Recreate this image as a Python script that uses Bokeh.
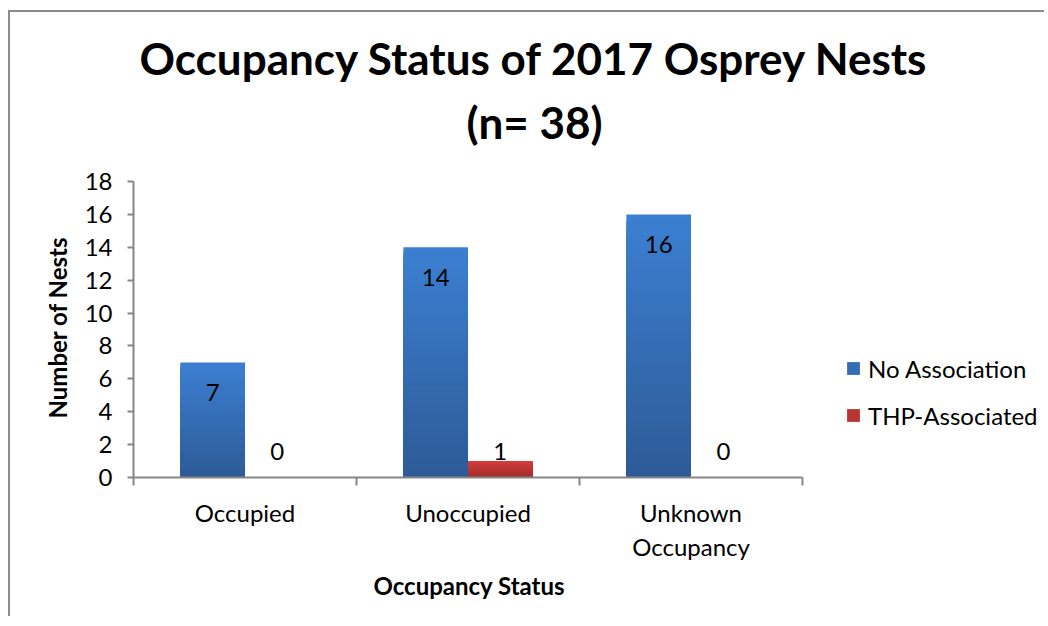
import numpy as np
from bokeh.plotting import figure
from bokeh.models import (ColumnDataSource, FixedTicker, Range1d, Title, Label,
                          Legend, LegendItem)
from bokeh.embed import file_html
from bokeh.resources import INLINE
from bokeh.core.properties import value

# ---------------- data ----------------
categories = ["Occupied", "Unoccupied", "Unknown\nOccupancy"]
no_association = [7, 14, 16]
thp_associated = [0, 1, 0]
series_names = ["No Association", "THP-Associated"]
y_ticks = [0, 2, 4, 6, 8, 10, 12, 14, 16, 18]
title_lines = ["Occupancy Status of 2017 Osprey Nests", "(n= 38)"]
x_title = "Occupancy Status"
y_title = "Number of Nests"

# ---------------- style / layout ----------------
FONT = "Lato"
FS = "24px"
AXIS_COL = "#868686"
BLUE_TOP, BLUE_BOT = (0x3C, 0x7F, 0xD2), (0x2D, 0x5B, 0x96)
RED_TOP, RED_BOT = (0xD4, 0x3E, 0x3C), (0xA0, 0x2C, 0x2B)
BAR_W = 0.29
N_SLICES = 40

W, H = 1036, 606
LEFT, TOP, BOTTOM = 123, 20, 141
AXIS_X_PX = 669               # drawn length of the x axis
AXIS_Y_PX = 296               # drawn length of the y axis
FRAME_W = W - LEFT            # frame extends under legend / title areas
FRAME_H = H - TOP - BOTTOM
ncat = len(categories)
y_max = max(y_ticks)
x_end = ncat * FRAME_W / AXIS_X_PX
y_end = y_max * FRAME_H / AXIS_Y_PX

p = figure(width=W, height=H, output_backend="svg", toolbar_location=None,
           x_range=Range1d(0, x_end), y_range=Range1d(0, y_end),
           min_border_left=LEFT, min_border_right=0,
           min_border_top=TOP, min_border_bottom=BOTTOM)
p.styles = {"border-left": "2px solid #8c8c8c", "border-top": "2px solid #8c8c8c",
            "margin-left": "8px", "margin-top": "10px"}
p.outline_line_color = None
p.grid.grid_line_color = None
p.background_fill_color = "white"
p.border_fill_color = "white"

xc = np.arange(ncat) + 0.5


def mix(c1, c2, t):
    return "#%02x%02x%02x" % tuple(int(round(a + (b - a) * t)) for a, b in zip(c1, c2))


def gradient_bars(xs, vals, top_c, bot_c):
    # tallest (lightest) layer first, shorter darker layers on top -> smooth gradient
    xx, tt, cc = [], [], []
    for k in range(N_SLICES - 1, -1, -1):
        for x, v in zip(xs, vals):
            xx.append(x)
            tt.append(v * (k + 1) / N_SLICES)
            cc.append(mix(bot_c, top_c, (k + 0.5) / N_SLICES))
    src = ColumnDataSource(dict(x=xx, top=tt, color=cc))
    return p.vbar(x="x", bottom=0, top="top", width=BAR_W, fill_color="color",
                  line_color=None, source=src)


dodge = BAR_W / 2
r_blue = gradient_bars(xc - dodge, no_association, BLUE_TOP, BLUE_BOT)
r_red = gradient_bars(xc + dodge, thp_associated, RED_TOP, RED_BOT)

# data labels
lab_src_b = ColumnDataSource(dict(x=xc - dodge, y=no_association,
                                  t=[str(v) for v in no_association]))
p.text(x="x", y="y", text="t", source=lab_src_b, text_align="center",
       text_baseline="middle", y_offset=30, text_font=value(FONT),
       text_font_size=FS, text_color="black")
lab_src_r = ColumnDataSource(dict(x=xc + dodge, y=[0] * len(thp_associated),
                                  t=[str(v) for v in thp_associated]))
p.text(x="x", y="y", text="t", source=lab_src_r, text_align="center",
       text_baseline="middle", y_offset=-26, text_font=value(FONT),
       text_font_size=FS, text_color="black")

# legend (inside the widened frame, right of the axis)
mid_idx = (N_SLICES // 2) * ncat
legend = Legend(items=[LegendItem(label=series_names[0], renderers=[r_blue], index=mid_idx),
                       LegendItem(label=series_names[1], renderers=[r_red], index=mid_idx + 1)],
                location=(712, 47), orientation="vertical",
                glyph_width=16, glyph_height=16, label_height=30,
                spacing=17, padding=0, margin=0, label_standoff=7,
                label_text_font=FONT, label_text_font_size=FS,
                label_text_color="black", border_line_color=None,
                background_fill_alpha=0)
p.add_layout(legend, "center")

# title lines (inside the tall frame, above the axes)
for line, base in zip(title_lines, [420, 356]):
    p.add_layout(Label(x=401, y=base, x_units="screen", y_units="screen", text=line,
                       text_align="center", text_baseline="alphabetic",
                       text_font=FONT, text_font_style="bold",
                       text_font_size="44px", text_color="black"))

# axes
xa = p.xaxis[0]
xa.bounds = (0, ncat)
xa.ticker = FixedTicker(ticks=list(xc), minor_ticks=list(range(ncat + 1)))
xa.major_label_overrides = {float(x): c for x, c in zip(xc, categories)}
xa.major_tick_out = 0
xa.major_tick_in = 0
xa.minor_tick_out = 8
xa.minor_tick_in = 0
xa.minor_tick_line_color = AXIS_COL
xa.minor_tick_line_width = 2
xa.axis_line_color = AXIS_COL
xa.axis_line_width = 2
xa.major_label_text_font = FONT
xa.major_label_text_font_size = FS
xa.major_label_text_color = "black"
xa.major_label_standoff = 12

ya = p.yaxis[0]
ya.bounds = (0, y_max)
ya.ticker = FixedTicker(ticks=y_ticks, minor_ticks=[])
ya.major_tick_out = 6
ya.major_tick_in = 0
ya.major_tick_line_color = AXIS_COL
ya.major_tick_line_width = 2
ya.axis_line_color = AXIS_COL
ya.axis_line_width = 2
ya.major_label_text_font = FONT
ya.major_label_text_font_size = FS
ya.major_label_text_color = "black"
ya.major_label_standoff = 15

# axis titles as side titles (positioned along the drawn axes)
xt = Title(text=x_title, align="left", offset=240, vertical_align="top", standoff=12,
           text_font=FONT, text_font_style="bold", text_font_size=FS, text_color="black")
p.add_layout(xt, "below")
yt = Title(text=y_title, align="left", offset=59, standoff=20,
           text_font=FONT, text_font_style="bold", text_font_size=FS, text_color="black")
p.add_layout(yt, "left")

open("out.html", "w").write(file_html(p, INLINE))
